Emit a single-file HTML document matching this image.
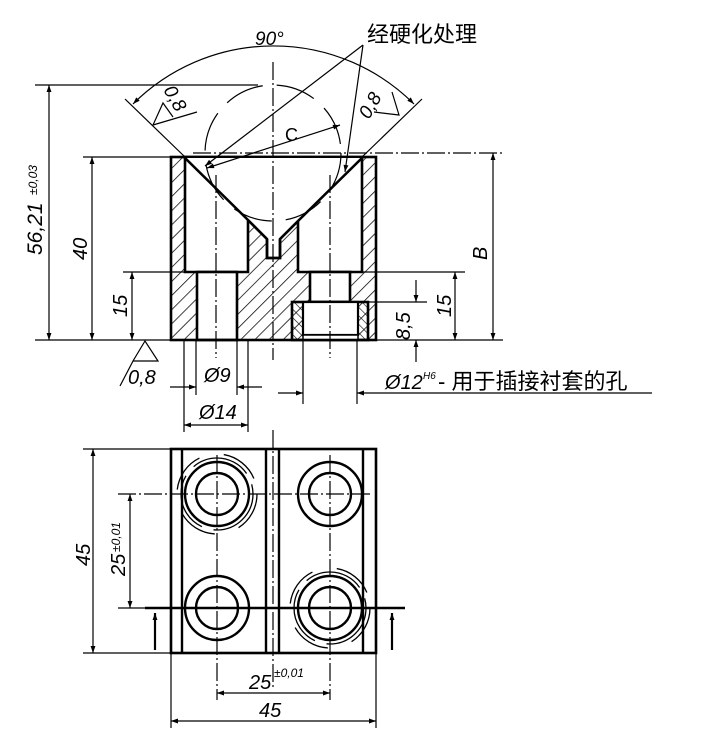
<!DOCTYPE html>
<html><head><meta charset="utf-8"><style>
html,body{margin:0;padding:0;background:#fff}
svg{display:block}
text{font-family:"Liberation Sans","Noto Sans CJK SC",sans-serif;fill:#000}
.it{font-style:italic}
</style></head><body>
<svg width="724" height="750" viewBox="0 0 724 750" xmlns="http://www.w3.org/2000/svg">
<defs>
<pattern id="h" patternUnits="userSpaceOnUse" width="10" height="10" patternTransform="rotate(45)">
<line x1="0" y1="0" x2="0" y2="10" stroke="#000" stroke-width="1.5"/>
</pattern>
<pattern id="h2" patternUnits="userSpaceOnUse" width="6" height="6" patternTransform="rotate(-45)">
<line x1="0" y1="0" x2="0" y2="6" stroke="#000" stroke-width="1.2"/>
</pattern>
<marker id="a" viewBox="0 0 10 10" refX="10" refY="5" markerWidth="12" markerHeight="7" orient="auto-start-reverse" markerUnits="userSpaceOnUse">
<path d="M0,1.5 L10,5 L0,8.5 z" fill="#000"/>
</marker>
</defs>

<!-- ===== SECTION VIEW ===== -->
<rect x="171" y="157" width="205" height="183" fill="url(#h)"/>
<g fill="#fff" stroke="#000" stroke-width="2.6">
<polygon points="185,157 185,272 248,272 248,220 267,239 267,258 280,258 280,239 298,221 298,272 362,272 362,157"/>
<rect x="197" y="272" width="40" height="68"/>
<rect x="310" y="272" width="40" height="30"/>
</g>
<rect x="292" y="302" width="76" height="38" fill="url(#h2)" stroke="#000" stroke-width="2.6"/>
<rect x="303" y="302" width="55" height="33" fill="#fff" stroke="#000" stroke-width="2.2"/>
<rect x="303" y="335" width="55" height="5" fill="#fff" stroke="#000" stroke-width="1.5"/>
<rect x="171" y="157" width="205" height="183" fill="none" stroke="#000" stroke-width="2.6"/>
<polygon points="186,158 267,239 280,239 361,158" fill="#fff"/>
<g stroke="#000" stroke-width="2.6" fill="none">
<polyline points="183,156 248,220 267,239 267,258 280,258 280,239 298,221 364,156"/>
</g>

<g stroke="#000" stroke-width="1.2" fill="none">
<line x1="35" y1="85" x2="258" y2="85"/>
<line x1="83" y1="157" x2="171" y2="157"/>
<line x1="123" y1="272" x2="185" y2="272"/>
<line x1="35" y1="340" x2="171" y2="340"/>
<line x1="376" y1="340" x2="503" y2="340"/>
<line x1="362" y1="272" x2="465" y2="272"/>
<line x1="368" y1="302" x2="427" y2="302"/>
<line x1="125" y1="99" x2="185" y2="157"/>
<line x1="422" y1="99" x2="362" y2="157"/>
<line x1="49" y1="85" x2="49" y2="340" marker-start="url(#a)" marker-end="url(#a)"/>
<line x1="92" y1="157" x2="92" y2="340" marker-start="url(#a)" marker-end="url(#a)"/>
<line x1="132" y1="272" x2="132" y2="340" marker-start="url(#a)" marker-end="url(#a)"/>
<line x1="493" y1="153" x2="493" y2="340" marker-start="url(#a)" marker-end="url(#a)"/>
<line x1="455" y1="272" x2="455" y2="340" marker-start="url(#a)" marker-end="url(#a)"/>
<line x1="416" y1="280" x2="416" y2="302" marker-end="url(#a)"/>
<line x1="416" y1="362" x2="416" y2="340" marker-end="url(#a)"/>
<path d="M133,104 A199,199 0 0 1 414,104" marker-start="url(#a)" marker-end="url(#a)"/>
<line x1="207" y1="168" x2="340" y2="125" marker-start="url(#a)" marker-end="url(#a)"/>
<line x1="363" y1="45" x2="205" y2="166" marker-end="url(#a)"/>
<line x1="363" y1="45" x2="345" y2="172" marker-end="url(#a)"/>
<line x1="184" y1="340" x2="184" y2="432"/>
<line x1="248" y1="340" x2="248" y2="432"/>
<line x1="196" y1="340" x2="196" y2="395"/>
<line x1="237" y1="340" x2="237" y2="395"/>
<line x1="170" y1="387" x2="196" y2="387" marker-end="url(#a)"/>
<line x1="262" y1="387" x2="237" y2="387" marker-end="url(#a)"/>
<line x1="184" y1="425" x2="248" y2="425" marker-start="url(#a)" marker-end="url(#a)"/>
<line x1="303" y1="340" x2="303" y2="404"/>
<line x1="357" y1="340" x2="357" y2="404"/>
<line x1="278" y1="393" x2="303" y2="393" marker-end="url(#a)"/>
<line x1="652" y1="393" x2="357" y2="393" marker-end="url(#a)"/>
<polyline points="120,386 133,361 145,341 158,361 133,361"/>
<polyline points="197,112 153,125 163,103 173,117"/>
<polyline points="374,112 399,115 392,92"/>
<line x1="273" y1="62" x2="273" y2="360" stroke-dasharray="18,3,2,3"/>
<line x1="216" y1="175" x2="216" y2="358" stroke-dasharray="18,3,2,3"/>
<line x1="330" y1="175" x2="330" y2="358" stroke-dasharray="18,3,2,3"/>
<line x1="193" y1="153" x2="503" y2="153" stroke-dasharray="18,3,2,3"/>
<circle cx="273" cy="153" r="68" stroke-dasharray="40,14"/>
</g>

<text x="255" y="45" class="it" font-size="19">90°</text>
<text x="285" y="141" font-size="18">C</text>
<text x="367" y="42" font-size="22">经硬化处理</text>
<text x="128" y="384" class="it" font-size="20">0,8</text>
<text x="0" y="0" class="it" font-size="19" transform="translate(163,90) rotate(60)">0,8</text>
<text x="0" y="0" class="it" font-size="19" transform="translate(369,120) rotate(-60)">0,8</text>
<text x="0" y="0" class="it" font-size="21" transform="translate(42,255) rotate(-90)">56,21</text>
<text x="0" y="0" class="it" font-size="12" transform="translate(37,195) rotate(-90)">±0,03</text>
<text x="0" y="0" class="it" font-size="20" transform="translate(87,260) rotate(-90)">40</text>
<text x="0" y="0" class="it" font-size="20" transform="translate(127,317) rotate(-90)">15</text>
<text x="0" y="0" class="it" font-size="20" transform="translate(487,260) rotate(-90)">B</text>
<text x="0" y="0" class="it" font-size="20" transform="translate(451,317) rotate(-90)">15</text>
<text x="0" y="0" class="it" font-size="20" transform="translate(410,340) rotate(-90)">8,5</text>
<text x="204" y="382" class="it" font-size="20">Ø9</text>
<text x="199" y="419" class="it" font-size="20">Ø14</text>
<text x="385" y="389" class="it" font-size="20">Ø12</text>
<text x="423" y="379" class="it" font-size="10">H6</text>
<text x="438" y="389" font-size="22">- 用于插接衬套的孔</text>

<!-- ===== TOP VIEW ===== -->
<g stroke="#000" fill="none">
<rect x="171" y="449" width="205" height="204" stroke-width="2.6"/>
<g stroke-width="2.4">
<line x1="182" y1="449" x2="182" y2="653"/>
<line x1="266" y1="449" x2="266" y2="653"/>
<line x1="279" y1="449" x2="279" y2="653"/>
<line x1="363" y1="449" x2="363" y2="653"/>
<circle cx="217" cy="494" r="21"/><circle cx="217" cy="494" r="32"/>
<circle cx="330" cy="494" r="21"/><circle cx="330" cy="494" r="32"/>
<circle cx="217" cy="608" r="21"/><circle cx="217" cy="608" r="32"/>
<circle cx="330" cy="608" r="21"/><circle cx="330" cy="608" r="32"/>
</g>
<g stroke-width="1.3">
<circle cx="217" cy="494" r="36" stroke-dasharray="60,12"/>
<circle cx="217" cy="494" r="40" stroke-dasharray="40,25"/>
<circle cx="330" cy="608" r="36" stroke-dasharray="60,12"/>
<circle cx="330" cy="608" r="40" stroke-dasharray="40,25"/>
</g>
<g stroke-width="1.2">
<line x1="273" y1="430" x2="273" y2="690" stroke-dasharray="18,3,2,3"/>
<line x1="217" y1="455" x2="217" y2="700" stroke-dasharray="18,3,2,3"/>
<line x1="330" y1="455" x2="330" y2="700" stroke-dasharray="18,3,2,3"/>
<line x1="118" y1="494" x2="370" y2="494" stroke-dasharray="18,3,2,3"/>
<line x1="83" y1="449" x2="171" y2="449"/>
<line x1="83" y1="653" x2="171" y2="653"/>
<line x1="118" y1="608" x2="171" y2="608"/>
<line x1="93" y1="449" x2="93" y2="653" marker-start="url(#a)" marker-end="url(#a)"/>
<line x1="130" y1="494" x2="130" y2="608" marker-start="url(#a)" marker-end="url(#a)"/>
<line x1="171" y1="653" x2="171" y2="728"/>
<line x1="376" y1="653" x2="376" y2="728"/>
<line x1="217" y1="693" x2="330" y2="693" marker-start="url(#a)" marker-end="url(#a)"/>
<line x1="171" y1="721" x2="376" y2="721" marker-start="url(#a)" marker-end="url(#a)"/>
</g>
<line x1="145" y1="608" x2="405" y2="608" stroke-width="2.4"/>
<line x1="155" y1="650" x2="155" y2="613" stroke-width="2.2" marker-end="url(#a)"/>
<line x1="392" y1="650" x2="392" y2="613" stroke-width="2.2" marker-end="url(#a)"/>
</g>
<text x="0" y="0" class="it" font-size="20" transform="translate(90,566) rotate(-90)">45</text>
<text x="0" y="0" class="it" font-size="20" transform="translate(125,576) rotate(-90)">25</text>
<text x="0" y="0" class="it" font-size="12" transform="translate(120,552) rotate(-90)">±0,01</text>
<text x="249" y="689" class="it" font-size="20">25</text>
<text x="274" y="677" class="it" font-size="12">±0,01</text>
<text x="259" y="717" class="it" font-size="20">45</text>
</svg>
</body></html>
